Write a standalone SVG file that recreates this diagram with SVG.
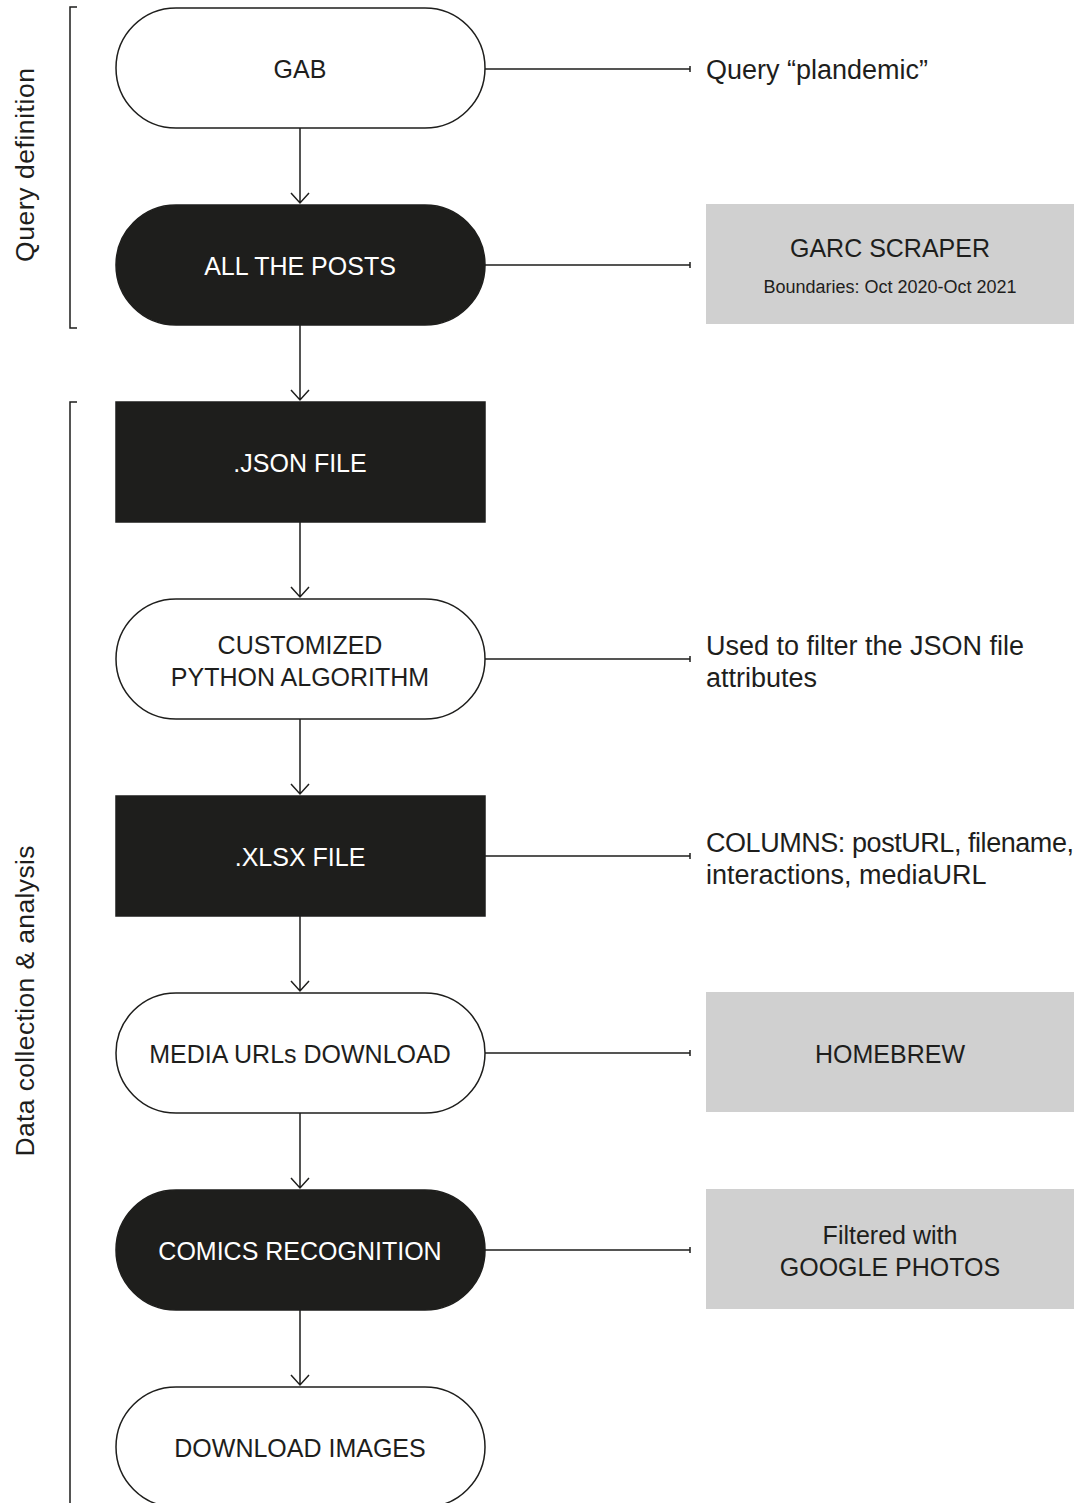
<svg xmlns="http://www.w3.org/2000/svg" width="1078" height="1503" viewBox="0 0 1078 1503">
<style>
.pw{fill:#ffffff;stroke:#1e1e1c;stroke-width:1.5}
.pb{fill:#1e1e1c;stroke:#1e1e1c;stroke-width:1.5}
.gb{fill:#d0d0d0}
.t{font-family:"Liberation Sans",Arial,sans-serif;font-size:25px;fill:#1e1e1c;text-anchor:middle}
.tw{fill:#ffffff}
.ts{font-family:"Liberation Sans",Arial,sans-serif;font-size:27px;fill:#1e1e1c}
.tsm{font-family:"Liberation Sans",Arial,sans-serif;font-size:18px;fill:#1e1e1c;text-anchor:middle}
.tr{font-family:"Liberation Sans",Arial,sans-serif;font-size:26.5px;fill:#1e1e1c;text-anchor:middle}
.ln{fill:none;stroke:#1e1e1c;stroke-width:1.5}
</style>
<rect width="1078" height="1503" fill="#ffffff"/>

<g id="brackets">
<path class="ln" d="M77,7 H70 V328 H77"/>
<path class="ln" d="M77,402 H70 V1510"/>
<text class="tr" transform="translate(34,165) rotate(-90)" textLength="194">Query definition</text>
<text class="tr" transform="translate(34,1001) rotate(-90)" textLength="311">Data collection &amp; analysis</text>
</g>

<g id="connectors">
<path class="ln" d="M300,128 V203 M291,193 L300,203 L309,193"/>
<path class="ln" d="M300,325 V400 M291,390 L300,400 L309,390"/>
<path class="ln" d="M300,522 V597 M291,587 L300,597 L309,587"/>
<path class="ln" d="M300,719 V794 M291,784 L300,794 L309,784"/>
<path class="ln" d="M300,916 V991 M291,981 L300,991 L309,981"/>
<path class="ln" d="M300,1113 V1188 M291,1178 L300,1188 L309,1178"/>
<path class="ln" d="M300,1310 V1385 M291,1375 L300,1385 L309,1375"/>
<path class="ln" d="M485,69 H690 M690,66 V72"/>
<path class="ln" d="M485,265 H690 M690,262 V268"/>
<path class="ln" d="M485,659 H690 M690,656 V662"/>
<path class="ln" d="M485,856 H690 M690,853 V859"/>
<path class="ln" d="M485,1053 H690 M690,1050 V1056"/>
<path class="ln" d="M485,1250 H690 M690,1247 V1253"/>
</g>

<g id="gab">
<rect class="pw" x="116" y="8" width="369" height="120" rx="60"/>
<text class="t" x="300" y="78">GAB</text>
</g>
<g id="query">
<text class="ts" x="706" y="79">Query “plandemic”</text>
</g>
<g id="allposts">
<rect class="pb" x="116" y="205" width="369" height="120" rx="60"/>
<text class="t tw" x="300" y="275">ALL THE POSTS</text>
</g>
<g id="garc">
<rect class="gb" x="706" y="204" width="368" height="120"/>
<text class="t" x="890" y="257">GARC SCRAPER</text>
<text class="tsm" x="890" y="293">Boundaries: Oct 2020-Oct 2021</text>
</g>
<g id="json">
<rect class="pb" x="116" y="402" width="369" height="120"/>
<text class="t tw" x="300" y="472">.JSON FILE</text>
</g>
<g id="python">
<rect class="pw" x="116" y="599" width="369" height="120" rx="60"/>
<text class="t" x="300" y="654">CUSTOMIZED</text>
<text class="t" x="300" y="686">PYTHON ALGORITHM</text>
</g>
<g id="filter-note">
<text class="ts" x="706" y="655">Used to filter the JSON file</text>
<text class="ts" x="706" y="687">attributes</text>
</g>
<g id="xlsx">
<rect class="pb" x="116" y="796" width="369" height="120"/>
<text class="t tw" x="300" y="866">.XLSX FILE</text>
</g>
<g id="columns-note">
<text class="ts" x="706" y="852" textLength="368">COLUMNS: postURL, filename,</text>
<text class="ts" x="706" y="884">interactions, mediaURL</text>
</g>
<g id="media">
<rect class="pw" x="116" y="993" width="369" height="120" rx="60"/>
<text class="t" x="300" y="1063">MEDIA URLs DOWNLOAD</text>
</g>
<g id="homebrew">
<rect class="gb" x="706" y="992" width="368" height="120"/>
<text class="t" x="890" y="1063">HOMEBREW</text>
</g>
<g id="comics">
<rect class="pb" x="116" y="1190" width="369" height="120" rx="60"/>
<text class="t tw" x="300" y="1260">COMICS RECOGNITION</text>
</g>
<g id="google">
<rect class="gb" x="706" y="1189" width="368" height="120"/>
<text class="t" x="890" y="1244">Filtered with</text>
<text class="t" x="890" y="1276">GOOGLE PHOTOS</text>
</g>
<g id="download">
<rect class="pw" x="116" y="1387" width="369" height="120" rx="60"/>
<text class="t" x="300" y="1457">DOWNLOAD IMAGES</text>
</g>
</svg>
